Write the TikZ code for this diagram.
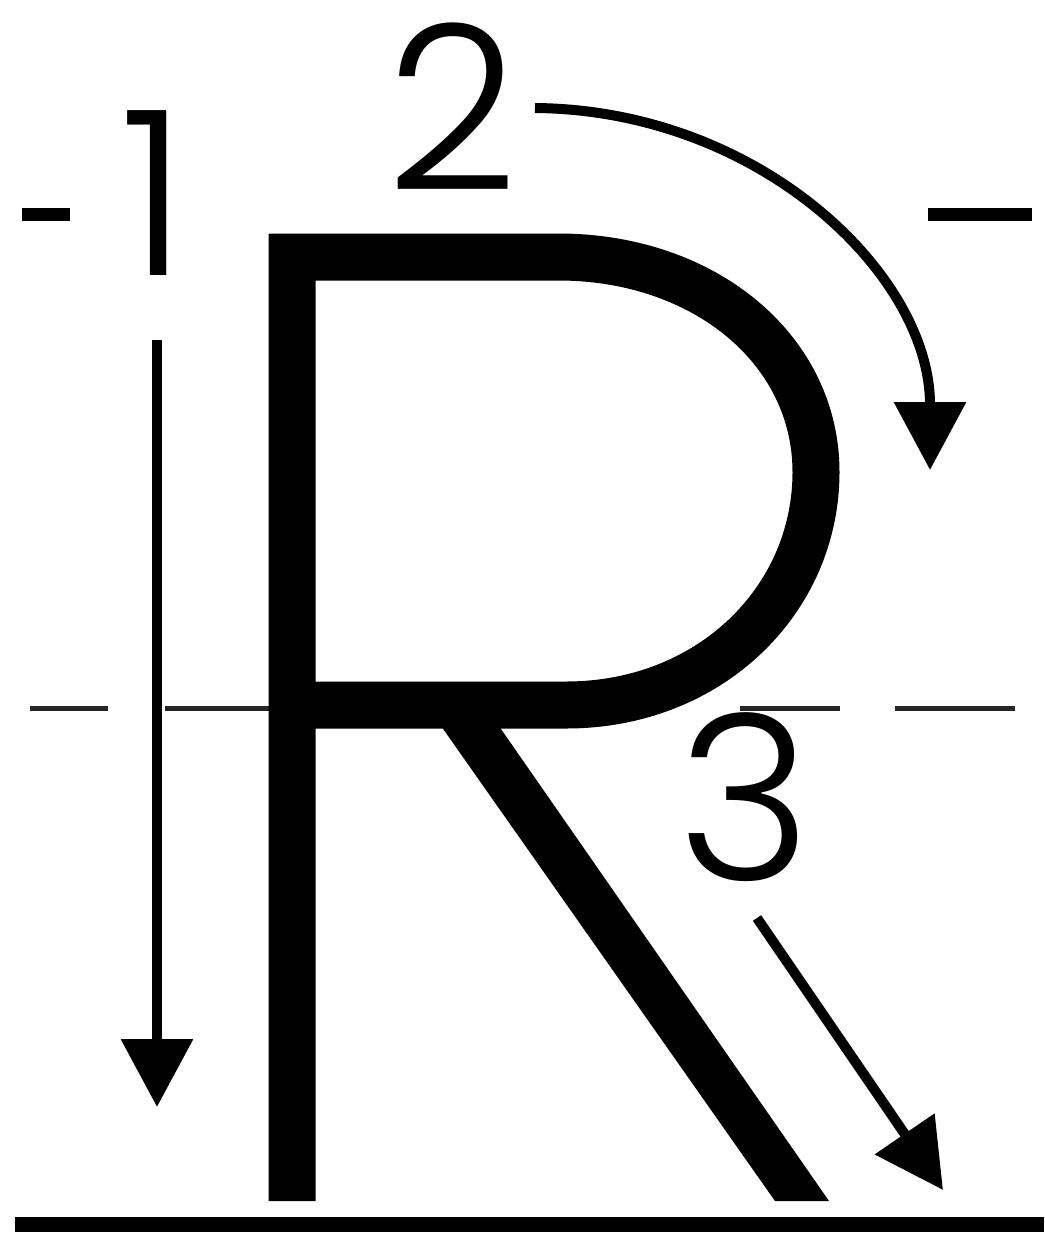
\documentclass[tikz,border=0pt]{standalone}
\usepackage{fontspec}
\newfontfamily\digitfont{Poppins}[UprightFont={* Light}]
\usetikzlibrary{arrows.meta}
\tikzset{
  guide/.style={line width=5pt, black!85},
  tick/.style={line width=13pt},
  letterstroke/.style={line width=47pt, line join=miter},
  strokearrow/.style={line width=10pt, -{Triangle[width=70pt,length=68pt]}},
  digit/.style={inner sep=0pt, anchor=base, font=\digitfont\fontsize{230}{230}\selectfont}
}
\begin{document}
\begin{tikzpicture}[x=1pt,y=-1pt]
\useasboundingbox (0,0) rectangle (1044,1236);
% guide lines
\draw[tick] (22,214) -- (70,214);
\draw[tick] (928,214) -- (1032,214);
\draw[guide] (30,708) -- (108,708);
\draw[guide] (165,708) -- (270,708);
\draw[guide] (740,708) -- (840,708);
\draw[guide] (895,708) -- (1015,708);
\draw[line width=15pt] (15,1224) -- (1044,1224);
% letter R
\draw[letterstroke] (292,1201) -- (292,257) -- (558,257)
  .. controls (705,257) and (816,350) .. (816,472)
  .. controls (816,600) and (710,705) .. (566,705) -- (292,705);
\fill (427,706) -- (485,706) -- (829,1201) -- (775,1201) -- cycle;
% numbers
\node[digit] (n1) at (154,275) {1};
\node[digit] (n2) at (452,190) {2};
\node[digit] (n3) at (745,880) {3};
% stroke arrows
\coordinate (a1s) at (157,340);
\coordinate (a1e) at (157,1107);
\coordinate (a2s) at (535,108);
\coordinate (a2e) at (930,470);
\coordinate (a3s) at (757,918);
\coordinate (a3e) at (943,1190);
\draw[strokearrow] (a1s) -- (a1e);
\draw[strokearrow] (a2s) .. controls (760,110) and (930,275) .. (a2e);
\draw[strokearrow] (a3s) -- (a3e);
\end{tikzpicture}
\end{document}
